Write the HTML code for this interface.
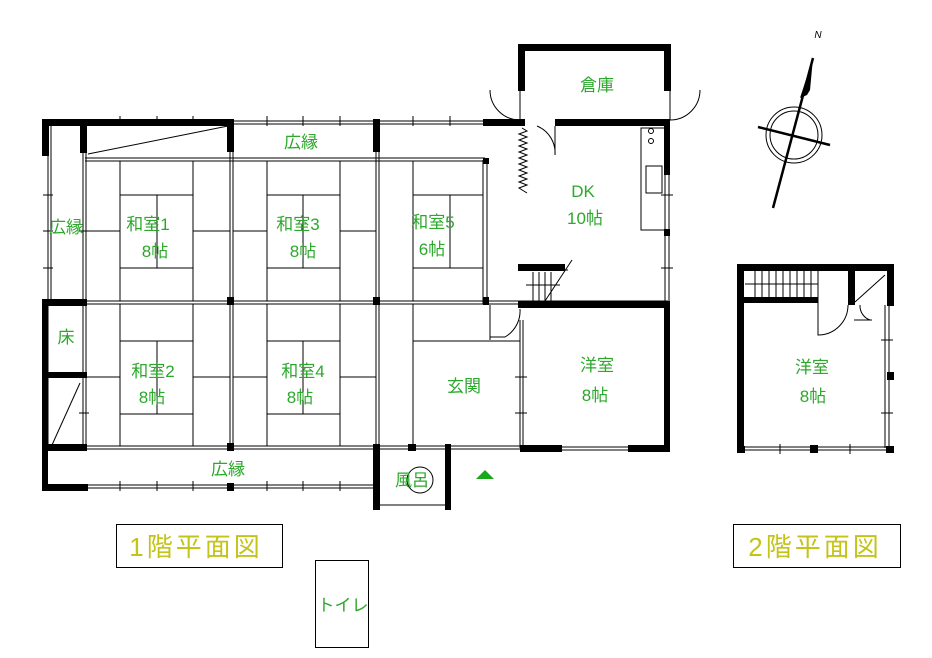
<!DOCTYPE html>
<html><head><meta charset="utf-8"><style>
html,body{margin:0;padding:0;background:#fff}
svg{display:block}
text{font-family:"Liberation Sans","Noto Sans CJK JP",sans-serif;fill:#2ca82c;font-size:17px;text-anchor:middle}
.t{fill:#c4c418;font-size:26px}
</style></head><body>
<svg width="932" height="658" viewBox="0 0 932 658" xmlns="http://www.w3.org/2000/svg">
<g stroke="#000" stroke-width="1" fill="none">
<line x1="85" y1="158" x2="485" y2="158"/><line x1="85" y1="161" x2="485" y2="161"/>
<line x1="48" y1="301" x2="668" y2="301"/><line x1="48" y1="304" x2="668" y2="304"/>
<line x1="85" y1="446" x2="520" y2="446"/><line x1="85" y1="449" x2="520" y2="449"/>
<line x1="232" y1="121" x2="485" y2="121"/><line x1="232" y1="124" x2="485" y2="124"/>
<line x1="88" y1="485" x2="373" y2="485"/><line x1="88" y1="488" x2="373" y2="488"/>
<line x1="48" y1="126" x2="48" y2="448"/><line x1="51" y1="126" x2="51" y2="300"/>
<line x1="83" y1="152" x2="83" y2="448"/><line x1="86" y1="152" x2="86" y2="448"/>
<line x1="230" y1="126" x2="230" y2="448"/><line x1="233" y1="126" x2="233" y2="448"/>
<line x1="376" y1="126" x2="376" y2="448"/><line x1="379" y1="126" x2="379" y2="448"/>
<line x1="483" y1="160" x2="483" y2="304"/><line x1="487" y1="160" x2="487" y2="304"/>
<line x1="520" y1="320" x2="520" y2="448"/><line x1="523" y1="320" x2="523" y2="448"/>
<line x1="665" y1="175" x2="665" y2="305"/><line x1="669" y1="175" x2="669" y2="305"/>
<line x1="885" y1="305" x2="885" y2="448"/><line x1="889" y1="305" x2="889" y2="448"/>
<line x1="562" y1="447" x2="628" y2="447"/><line x1="562" y1="450" x2="628" y2="450"/>
<line x1="745" y1="447" x2="888" y2="447"/><line x1="745" y1="450" x2="888" y2="450"/>
<path d="M120 116v10M157 116v10M193 116v10M267 116v10M303 116v10M340 116v10M413 116v10M450 116v10M120 481v10M157 481v10M193 481v10M267 481v10M303 481v10M340 481v10M43 195h10M43 231h10M43 268h10M43 377h10M79 231h10M79 413h10M515 413h12M515 377h12M661 195h12M661 268h12M881 340h12M881 413h12M780 444v10M850 444v10"/>
<line x1="120" y1="161" x2="120" y2="301"/><line x1="193" y1="161" x2="193" y2="301"/>
<line x1="120" y1="195" x2="193" y2="195"/><line x1="120" y1="268" x2="193" y2="268"/>
<line x1="157" y1="195" x2="157" y2="268"/><line x1="86" y1="231" x2="120" y2="231"/><line x1="193" y1="231" x2="230" y2="231"/>
<line x1="120" y1="304" x2="120" y2="446"/><line x1="193" y1="304" x2="193" y2="446"/>
<line x1="120" y1="341" x2="193" y2="341"/><line x1="120" y1="414" x2="193" y2="414"/>
<line x1="157" y1="341" x2="157" y2="414"/><line x1="86" y1="377" x2="120" y2="377"/><line x1="193" y1="377" x2="230" y2="377"/>
<line x1="267" y1="161" x2="267" y2="301"/><line x1="340" y1="161" x2="340" y2="301"/>
<line x1="267" y1="195" x2="340" y2="195"/><line x1="267" y1="268" x2="340" y2="268"/>
<line x1="303" y1="195" x2="303" y2="268"/><line x1="233" y1="231" x2="267" y2="231"/><line x1="340" y1="231" x2="376" y2="231"/>
<line x1="267" y1="304" x2="267" y2="446"/><line x1="340" y1="304" x2="340" y2="446"/>
<line x1="267" y1="341" x2="340" y2="341"/><line x1="267" y1="414" x2="340" y2="414"/>
<line x1="303" y1="341" x2="303" y2="414"/><line x1="233" y1="377" x2="267" y2="377"/><line x1="340" y1="377" x2="376" y2="377"/>
<line x1="413" y1="161" x2="413" y2="301"/><line x1="413" y1="195" x2="483" y2="195"/><line x1="413" y1="268" x2="483" y2="268"/><line x1="450" y1="195" x2="450" y2="268"/>
<line x1="413" y1="304" x2="413" y2="446"/><line x1="413" y1="341" x2="520" y2="341"/>
<line x1="88" y1="154" x2="228" y2="126"/>
<line x1="52" y1="445" x2="80" y2="383"/>
<rect x="641" y="128" width="24" height="102"/><rect x="646" y="166" width="16" height="27"/>
<circle cx="651" cy="131" r="2.5"/><circle cx="651" cy="141" r="2.5"/>
<polyline points="522,128 527,131 519,134 527,137 519,140 527,143 519,146 527,149 519,152 527,155 519,158 527,161 519,164 527,167 519,170 527,173 519,176 527,179 519,182 527,185 519,188 527,193"/>
<path d="M555 126 L555 155 M555 155 A29 29 0 0 0 537 126"/>
<path d="M490 90 A30 30 0 0 0 520 120 L520 90"/>
<path d="M700 90 A30 30 0 0 1 670 120 L670 90"/>
<path d="M490 337 L505 337 A30 30 0 0 0 520 309 M490 305 L490 340"/>
<path d="M818 300 L818 335 A30 30 0 0 0 848 305"/>
<path d="M854 320 L872 320 M860 305 A15 15 0 0 0 870 320"/>
<g><line x1="526" y1="270" x2="568" y2="270"/><line x1="533" y1="272" x2="533" y2="301"/><line x1="539" y1="272" x2="539" y2="301"/><line x1="545" y1="272" x2="545" y2="301"/><line x1="551" y1="272" x2="551" y2="301"/><line x1="526" y1="285" x2="560" y2="285"/><line x1="545" y1="301" x2="572" y2="260"/></g>
<g><line x1="755" y1="270" x2="755" y2="300"/><line x1="762" y1="270" x2="762" y2="300"/><line x1="769" y1="270" x2="769" y2="300"/><line x1="776" y1="270" x2="776" y2="300"/><line x1="783" y1="270" x2="783" y2="300"/><line x1="790" y1="270" x2="790" y2="300"/><line x1="797" y1="270" x2="797" y2="300"/><line x1="804" y1="270" x2="804" y2="300"/><line x1="811" y1="270" x2="811" y2="300"/><line x1="818" y1="270" x2="818" y2="300"/><line x1="745" y1="284" x2="818" y2="284"/></g>
<line x1="855" y1="302" x2="885" y2="275"/>
<circle cx="420" cy="480" r="13"/><line x1="378" y1="505" x2="450" y2="505"/>
<circle cx="794" cy="135" r="28"/><circle cx="794" cy="135" r="24"/>
<line x1="758" y1="127" x2="830" y2="145" stroke-width="2.5"/>
<line x1="813" y1="58" x2="773" y2="208" stroke-width="2.5"/>
<rect x="116.5" y="524.5" width="166" height="43"/>
<rect x="733.5" y="524.5" width="167" height="43"/>
<rect x="315.5" y="560.5" width="53" height="87"/>
</g>
<polygon points="813,58 800,98 807,95 810,90" fill="#000"/>
<g fill="#000">
<rect x="42" y="119" width="191" height="7"/><rect x="42" y="119" width="7" height="37"/><rect x="80" y="119" width="7" height="34"/>
<rect x="227" y="119" width="7" height="33"/><rect x="373" y="119" width="7" height="33"/><rect x="483" y="119" width="42" height="7"/>
<rect x="555" y="119" width="115" height="7"/><rect x="664" y="119" width="6" height="56"/><rect x="483" y="158" width="6" height="6"/>
<rect x="518" y="44" width="152" height="7"/><rect x="518" y="44" width="7" height="47"/><rect x="664" y="44" width="7" height="47"/>
<rect x="42" y="301" width="6" height="190"/><rect x="42" y="299" width="45" height="7"/><rect x="42" y="372" width="45" height="6"/>
<rect x="42" y="444" width="45" height="7"/><rect x="42" y="484" width="46" height="7"/>
<rect x="227" y="297" width="7" height="8"/><rect x="373" y="297" width="7" height="8"/><rect x="483" y="297" width="6" height="8"/>
<rect x="227" y="443" width="7" height="8"/><rect x="227" y="483" width="7" height="8"/>
<rect x="518" y="301" width="152" height="7"/><rect x="664" y="301" width="6" height="151"/><rect x="520" y="445" width="42" height="7"/><rect x="628" y="445" width="42" height="7"/>
<rect x="518" y="264" width="47" height="7"/><rect x="664" y="229" width="6" height="7"/>
<rect x="373" y="444" width="7" height="66"/><rect x="445" y="444" width="6" height="66"/><rect x="408" y="444" width="8" height="7"/>
<rect x="737" y="264" width="157" height="7"/><rect x="737" y="264" width="7" height="189"/><rect x="737" y="446" width="8" height="7"/><rect x="886" y="446" width="8" height="7"/>
<rect x="887" y="264" width="7" height="42"/><rect x="887" y="372" width="7" height="8"/>
<rect x="744" y="297" width="74" height="6"/><rect x="848" y="270" width="7" height="35"/><rect x="810" y="445" width="8" height="8"/>
</g>
<polygon points="485,470 476,479 494,479" fill="#1aa81a"/>
<text x="301" y="148">広縁</text>
<text x="66" y="233">広縁</text>
<text x="148" y="230">和室1</text><text x="155" y="257">8帖</text>
<text x="298" y="230">和室3</text><text x="303" y="257">8帖</text>
<text x="433" y="228">和室5</text><text x="432" y="255">6帖</text>
<text x="66" y="343">床</text>
<text x="153" y="377">和室2</text><text x="152" y="403">8帖</text>
<text x="303" y="377">和室4</text><text x="300" y="403">8帖</text>
<text x="464" y="392">玄関</text>
<text x="228" y="475">広縁</text>
<text x="412" y="486">風呂</text>
<text x="597" y="91">倉庫</text>
<text x="583" y="197">DK</text><text x="585" y="224">10帖</text>
<text x="597" y="371">洋室</text><text x="595" y="401">8帖</text>
<text x="812" y="373">洋室</text><text x="813" y="402">8帖</text>
<text x="343" y="611">トイレ</text>
<text x="818" y="38" style="font-size:10px;fill:#000;font-style:italic">N</text>
<text class="t" x="196" y="556" style="letter-spacing:3px">1階平面図</text>
<text class="t" x="815" y="556" style="letter-spacing:3px">2階平面図</text>
</svg>
</body></html>
